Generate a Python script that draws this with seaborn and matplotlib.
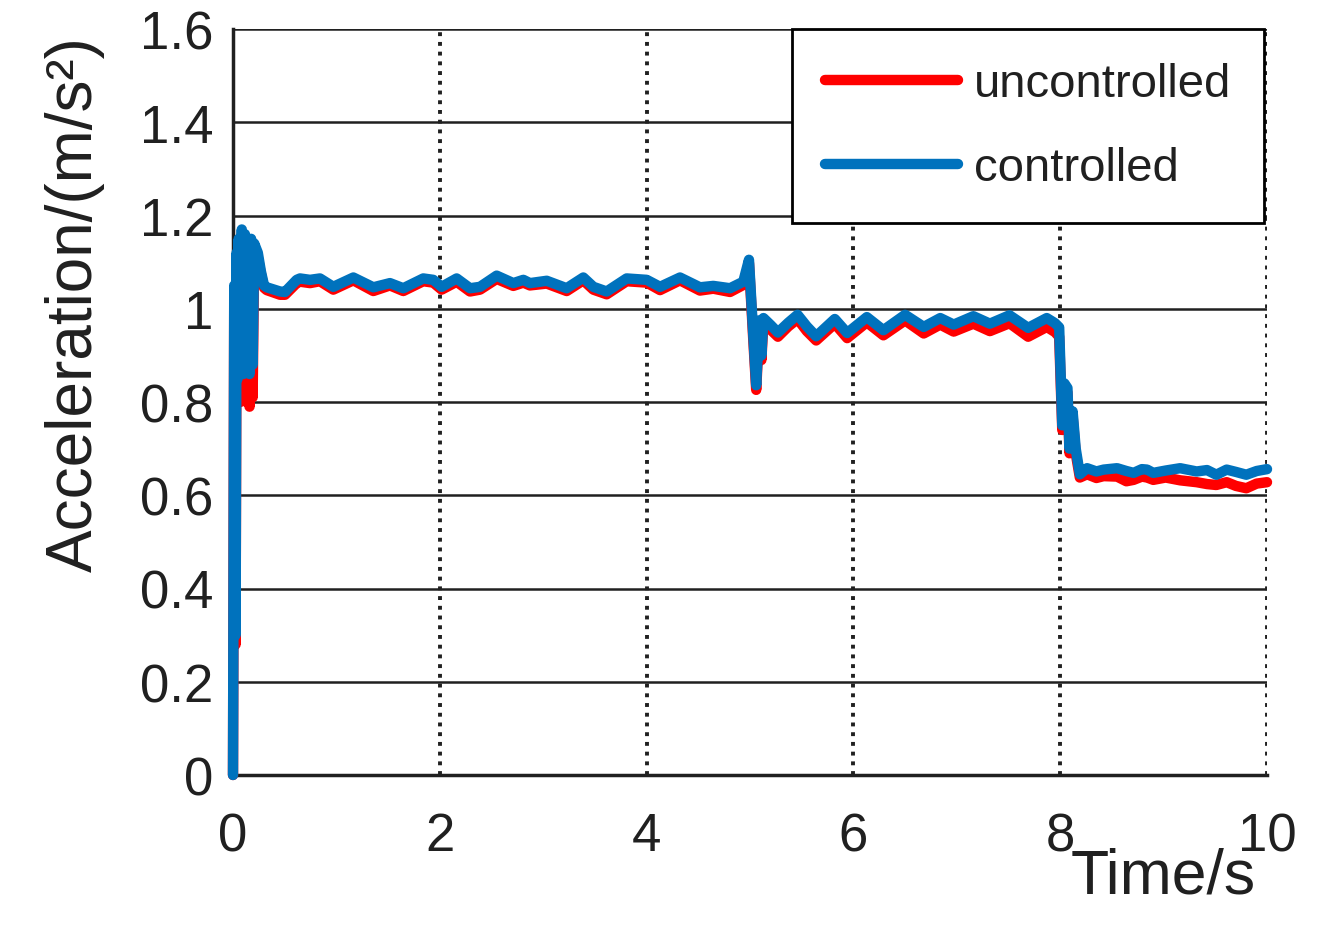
import pandas as pd
import matplotlib
matplotlib.use("Agg")
import matplotlib.pyplot as plt
import seaborn as sns

# values
time = [0.000, 0.012, 0.025, 0.035, 0.045, 0.055, 0.070, 0.085, 0.100, 0.115,
        0.130, 0.145, 0.160, 0.175, 0.190, 0.205, 0.240, 0.270, 0.300, 0.326,
        0.455, 0.503, 0.616, 0.648, 0.745, 0.841, 0.970, 1.164, 1.357, 1.518,
        1.647, 1.840, 1.937, 2.018, 2.163, 2.292, 2.389, 2.550, 2.711, 2.808,
        2.872, 3.034, 3.227, 3.388, 3.485, 3.614, 3.807, 4.001, 4.130, 4.323,
        4.516, 4.645, 4.807, 4.935, 4.990, 5.030, 5.060, 5.090, 5.110, 5.130,
        5.200, 5.270, 5.370, 5.460, 5.550, 5.640, 5.820, 5.940, 6.130, 6.290,
        6.500, 6.680, 6.840, 6.970, 7.160, 7.320, 7.510, 7.690, 7.870, 7.950,
        7.990, 8.020, 8.040, 8.070, 8.090, 8.120, 8.150, 8.190, 8.260, 8.350,
        8.420, 8.550, 8.640, 8.710, 8.790, 8.840, 8.900, 9.020, 9.160, 9.320,
        9.420, 9.510, 9.610, 9.700, 9.800, 9.900, 10.000]

uncontrolled = [0.000, 1.030, 0.280, 1.100, 0.800, 1.130, 0.800, 1.160, 0.810, 1.150,
                0.800, 1.140, 0.790, 1.140, 0.810, 1.130, 1.110, 1.075, 1.045, 1.040,
                1.030, 1.030, 1.055, 1.058, 1.055, 1.059, 1.041, 1.061, 1.038, 1.050,
                1.038, 1.059, 1.056, 1.041, 1.058, 1.037, 1.041, 1.064, 1.049, 1.056,
                1.050, 1.054, 1.038, 1.061, 1.041, 1.031, 1.059, 1.056, 1.040, 1.061,
                1.039, 1.043, 1.036, 1.051, 1.098, 0.940, 0.826, 0.965, 0.890, 0.972,
                0.955, 0.940, 0.962, 0.978, 0.952, 0.932, 0.968, 0.937, 0.971, 0.943,
                0.975, 0.947, 0.966, 0.951, 0.968, 0.952, 0.969, 0.940, 0.961, 0.950,
                0.940, 0.740, 0.830, 0.820, 0.690, 0.770, 0.690, 0.638, 0.645, 0.637,
                0.641, 0.640, 0.630, 0.633, 0.640, 0.638, 0.633, 0.638, 0.632, 0.628,
                0.624, 0.622, 0.628, 0.620, 0.615, 0.625, 0.628]

controlled = [0.000, 1.050, 0.300, 1.120, 0.850, 1.150, 0.860, 1.170, 0.860, 1.160,
              0.870, 1.150, 0.860, 1.150, 0.880, 1.140, 1.120, 1.080, 1.050, 1.046,
              1.037, 1.036, 1.062, 1.065, 1.062, 1.065, 1.047, 1.067, 1.046, 1.055,
              1.044, 1.065, 1.062, 1.047, 1.065, 1.044, 1.047, 1.071, 1.055, 1.062,
              1.055, 1.060, 1.044, 1.067, 1.047, 1.037, 1.065, 1.062, 1.047, 1.067,
              1.046, 1.049, 1.044, 1.058, 1.105, 0.950, 0.836, 0.975, 0.900, 0.980,
              0.965, 0.949, 0.970, 0.987, 0.962, 0.941, 0.978, 0.948, 0.982, 0.954,
              0.987, 0.961, 0.980, 0.966, 0.984, 0.968, 0.986, 0.959, 0.980, 0.969,
              0.960, 0.750, 0.840, 0.830, 0.700, 0.780, 0.700, 0.645, 0.658, 0.651,
              0.655, 0.658, 0.652, 0.648, 0.656, 0.655, 0.648, 0.653, 0.658, 0.651,
              0.654, 0.644, 0.655, 0.650, 0.644, 0.652, 0.656]

series_names = ["uncontrolled", "controlled"]
colors = ["#ff0000", "#0072bd"]
x_ticks = [0, 2, 4, 6, 8, 10]
y_ticks = [0, 0.2, 0.4, 0.6, 0.8, 1.0, 1.2, 1.4, 1.6]
y_tick_labels = ["0", "0.2", "0.4", "0.6", "0.8", "1", "1.2", "1.4", "1.6"]

df = pd.DataFrame({
    "Time": time + time,
    "Acceleration": uncontrolled + controlled,
    "Case": [series_names[0]] * len(time) + [series_names[1]] * len(time),
})

#formatting
sns.set_style("white")
plt.rcParams["font.family"] = ["Liberation Sans", "DejaVu Sans"]

fig = plt.figure(figsize=(13.17, 9.29), dpi=100)
ax = fig.add_axes([233 / 1317, 1 - 776 / 929, 1034 / 1317, 746 / 929])

sns.lineplot(data=df, x="Time", y="Acceleration", hue="Case",
             hue_order=series_names, palette=colors, estimator=None,
             sort=False, linewidth=7.5, legend=False, ax=ax)
for line in ax.get_lines():
    line.set_clip_on(False)
    line.set_zorder(3)

ax.set_xlim(0, 10)
ax.set_ylim(0, 1.6)
ax.set_xticks(x_ticks)
ax.set_xticklabels([str(v) for v in x_ticks])
ax.set_yticks(y_ticks)
ax.set_yticklabels(y_tick_labels)
ax.tick_params(axis="both", direction="in", length=9, width=2.5,
               labelsize=38, colors="#202020")
ax.tick_params(axis="x", pad=26)
ax.tick_params(axis="y", pad=14)

ax.set_axisbelow(True)
ax.yaxis.grid(True, color="#202020", linewidth=1.8, linestyle="-")
ax.xaxis.grid(True, color="#202020", linewidth=2.8, linestyle=(0, (1.0, 1.5)))

for side in ["top", "right"]:
    ax.spines[side].set_visible(False)
for side in ["left", "bottom"]:
    ax.spines[side].set_color("#202020")
    ax.spines[side].set_linewidth(2.5)

ax.set_xlabel("")
ax.set_ylabel("")
ax.text(-0.153, 0.632, "Acceleration/(m/s²)", transform=ax.transAxes,
        rotation=90, ha="center", va="center", fontsize=46, color="#202020")
ax.text(0.900, -0.157, "Time/s", transform=ax.transAxes,
        ha="center", va="baseline", fontsize=45, color="#202020")

leg = ax.legend(ax.get_lines()[:2], series_names, loc="upper right",
                bbox_to_anchor=(0.997, 1.0), borderaxespad=0, fontsize=34,
                handlelength=2.8, handletextpad=0.34, labelspacing=0.85,
                borderpad=0.7, fancybox=False, framealpha=1, edgecolor="black")
leg.get_frame().set_linewidth(2)
leg.set_zorder(5)
for t in leg.get_texts():
    t.set_color("#202020")

fig.savefig("out.png", dpi=100)
